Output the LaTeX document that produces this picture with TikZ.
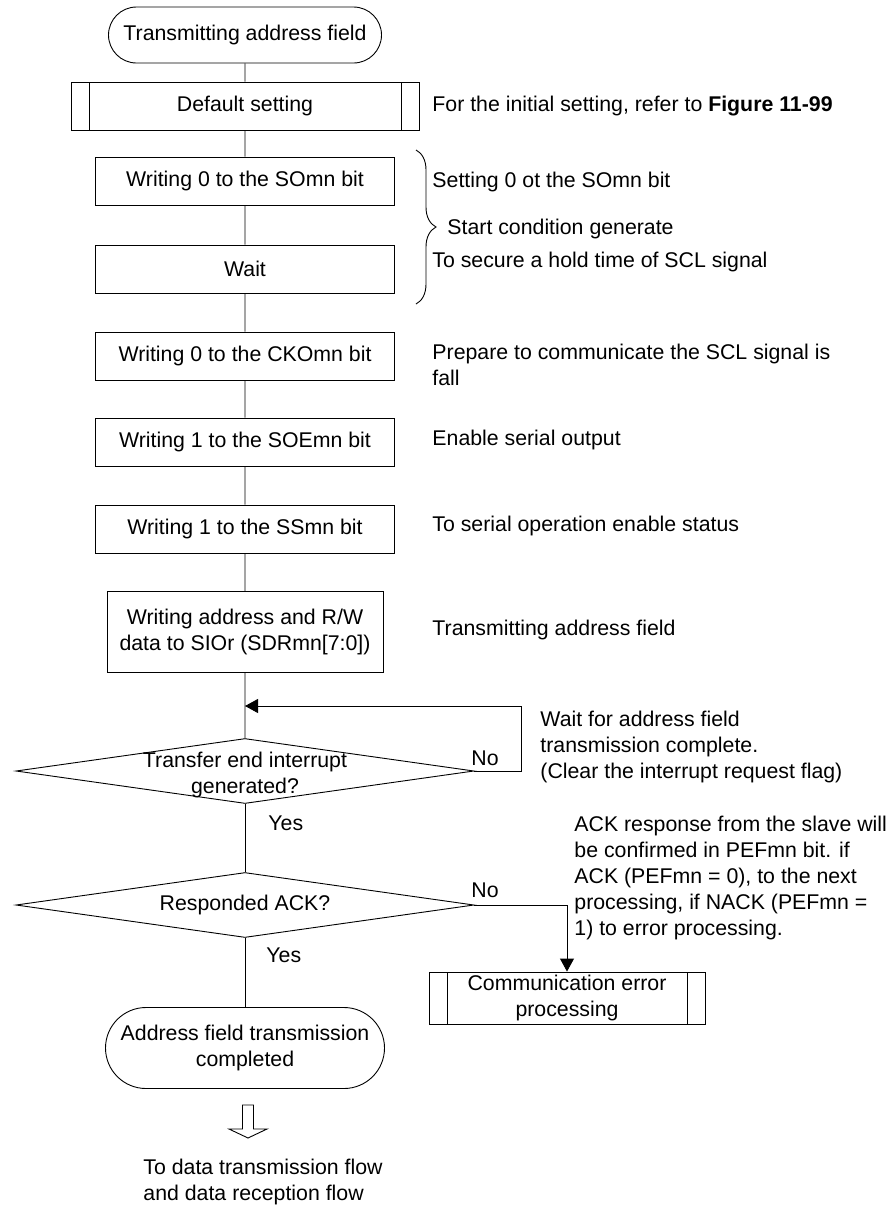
\documentclass[tikz,border=0pt]{standalone}
\usepackage{fontspec}
\setmainfont{Liberation Sans}
\usetikzlibrary{shapes.geometric,shapes.misc,arrows.meta,decorations.pathreplacing}

\begin{document}
\begin{tikzpicture}[
    x=1pt, y=-1pt,
    font=\fontsize{21.3}{26}\selectfont,
    line width=0.9pt,
    proc/.style={draw, rectangle, minimum width=299pt, minimum height=48pt, inner sep=0pt, align=center},
    predef/.style={proc, path picture={
        \draw ([xshift=18pt]path picture bounding box.north west) -- ([xshift=18pt]path picture bounding box.south west);
        \draw ([xshift=-18pt]path picture bounding box.north east) -- ([xshift=-18pt]path picture bounding box.south east);}},
    term/.style={draw, rounded rectangle, inner sep=0pt, align=center},
    decision/.style={draw, diamond, minimum width=458pt, minimum height=65pt, inner sep=0pt},
    note/.style={anchor=west, align=left, inner sep=0pt},
    arr/.style={-{Triangle[length=13pt,width=14pt]}}
]
\useasboundingbox (0,0) rectangle (891,1208);

% Flow
\node[term, minimum width=273pt, minimum height=56pt] (start) at (245,35) {Transmitting address field};
\node[predef, minimum width=348pt] (init) at (245,106) {Default setting};
\node[proc] (so)   at (245,181) {Writing 0 to the SOmn bit};
\node[proc] (wait) at (245,269) {Wait};
\node[proc] (cko)  at (245,356) {Writing 0 to the CKOmn bit};
\node[proc] (soe)  at (245,442) {Writing 1 to the SOEmn bit};
\node[proc] (ss)   at (245,529) {Writing 1 to the SSmn bit};
\node[proc, minimum width=276pt, minimum height=81pt] (sdr) at (245,632)
    {Writing address and R/W\\data to SIOr (SDRmn[7:0])};
\node[decision] (tend) at (245,771) {};
\node[align=center, inner sep=0pt] (tendtxt) at (245,775) {Transfer end interrupt\\generated?};
\node[decision] (ack) at (245,905) {};
\node[inner sep=0pt] (acktxt) at (ack) {Responded ACK?};
\node[predef, minimum width=276pt, minimum height=52pt] (err) at (567,998)
    {Communication error\\processing};
\node[term, minimum width=279pt, minimum height=81pt] (done) at (245,1048)
    {Address field transmission\\completed};

% Connectors
\draw (start) -- (init) -- (so) -- (wait) -- (cko) -- (soe) -- (ss) -- (sdr) -- (tend);
\draw (tend) -- (ack) -- (done);
\coordinate (loopin)  at (245,706);
\coordinate (loopout) at (521,706);
\draw[arr] (tend.east) -| (loopout) -- (loopin);
\draw[arr] (ack.east) -| (err.north);

% Branch labels
\node[inner sep=0pt] (no1)  at (485,758) {No};
\node[note] (yes1) at (268,823) {Yes};
\node[inner sep=0pt] (no2)  at (485,890) {No};
\node[note] (yes2) at (266,955) {Yes};

% Start condition brace
\draw[decorate, decoration={brace, amplitude=20pt}] (416,150) -- (416,304);

% Notes
\node[note] (n1) at (432,106) {For the initial setting, refer to \textbf{Figure 11-99}};
\node[note] (n2) at (432,182) {Setting 0 ot the SOmn bit};
\node[note] (n3) at (447,229) {Start condition generate};
\node[note] (n4) at (432,262) {To secure a hold time of SCL signal};
\node[note] (n5) at (432,365) {Prepare to communicate the SCL signal is\\fall};
\node[note] (n6) at (432,440) {Enable serial output};
\node[note] (n7) at (432,526) {To serial operation enable status};
\node[note] (n8) at (432,630) {Transmitting address field};
\node[note] (n9) at (540,747) {Wait for address field\\transmission complete.\\(Clear the interrupt request flag)};
\node[note] (n10) at (574,878) {ACK response from the slave will\\be confirmed in PEFmn bit. if\\ACK (PEFmn = 0), to the next\\processing, if NACK (PEFmn =\\1) to error processing.};

% Next flow
\coordinate (harr) at (248,1105);
\draw (harr) ++(-5.5,0) -- ++(0,24) -- ++(-13.5,0) -- ++(19,9) -- ++(19,-9) -- ++(-13.5,0) -- ++(0,-24) -- cycle;
\node[note] (next) at (143,1182) {To data transmission flow\\and data reception flow};

\end{tikzpicture}
\end{document}
